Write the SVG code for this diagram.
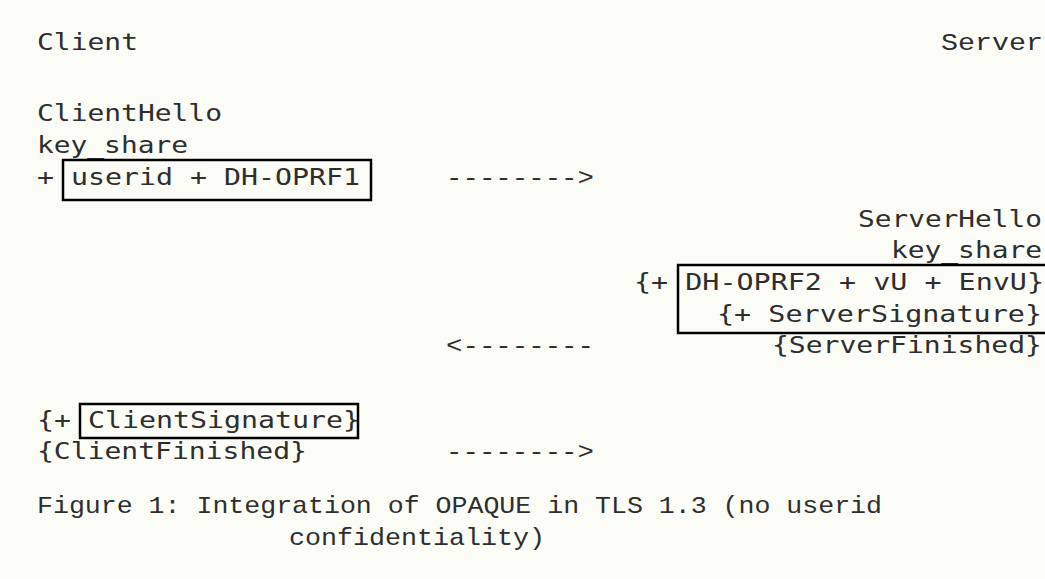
<svg xmlns="http://www.w3.org/2000/svg" width="1045" height="579" viewBox="0 0 1045 579">
<style>
.s{font-family:"DejaVu Sans Mono",monospace;font-size:23px;fill:#2e2e2e}
.c{font-family:"Liberation Mono","Courier New",monospace;font-size:24px;fill:#2e2e2e}
.e{text-anchor:end}
.box{fill:none;stroke:#000;stroke-width:2.5}
</style>
<rect width="1045" height="579" fill="#fdfdf8"/>
<g id="client-label"><text class="s" x="37" y="50" textLength="101" lengthAdjust="spacingAndGlyphs">Client</text></g>
<g id="server-label"><text class="c e" x="1043" y="50" textLength="102" lengthAdjust="spacingAndGlyphs">Server</text></g>
<g id="client-hello">
<text class="s" x="37" y="121" textLength="185" lengthAdjust="spacingAndGlyphs">ClientHello</text>
<text class="s" x="37" y="153" textLength="151" lengthAdjust="spacingAndGlyphs">key_share</text>
<text class="s" x="37" y="185" textLength="323" lengthAdjust="spacingAndGlyphs">+ userid + DH-OPRF1</text>
<rect class="box" x="63" y="160" width="308" height="40"/>
</g>
<g id="server-hello">
<text class="s e" x="1042" y="227" textLength="184" lengthAdjust="spacingAndGlyphs">ServerHello</text>
<text class="s e" x="1042" y="258" textLength="151" lengthAdjust="spacingAndGlyphs">key_share</text>
<text class="s e" x="1044" y="290" textLength="410" lengthAdjust="spacingAndGlyphs">{+ DH-OPRF2 + vU + EnvU}</text>
<text class="s e" x="1042" y="322" textLength="325" lengthAdjust="spacingAndGlyphs">{+ ServerSignature}</text>
<text class="s e" x="1042" y="353" textLength="270" lengthAdjust="spacingAndGlyphs">{ServerFinished}</text>
<rect class="box" x="678" y="265" width="380" height="68"/>
</g>
<g id="client-finish">
<text class="s" x="37" y="428" textLength="323" lengthAdjust="spacingAndGlyphs">{+ ClientSignature}</text>
<text class="s" x="37" y="459" textLength="270" lengthAdjust="spacingAndGlyphs">{ClientFinished}</text>
<rect class="box" x="80" y="404" width="278" height="34"/>
</g>
<g id="connectors">
<text class="c" x="446" y="185" textLength="148" lengthAdjust="spacingAndGlyphs">--------&gt;</text>
<text class="c" x="446" y="353" textLength="148" lengthAdjust="spacingAndGlyphs">&lt;--------</text>
<text class="c" x="446" y="459" textLength="148" lengthAdjust="spacingAndGlyphs">--------&gt;</text>
</g>
<g id="caption">
<text class="c" x="37" y="513" textLength="845" lengthAdjust="spacingAndGlyphs">Figure 1: Integration of OPAQUE in TLS 1.3 (no userid</text>
<text class="c" x="289" y="545" textLength="256" lengthAdjust="spacingAndGlyphs">confidentiality)</text>
</g>
</svg>
